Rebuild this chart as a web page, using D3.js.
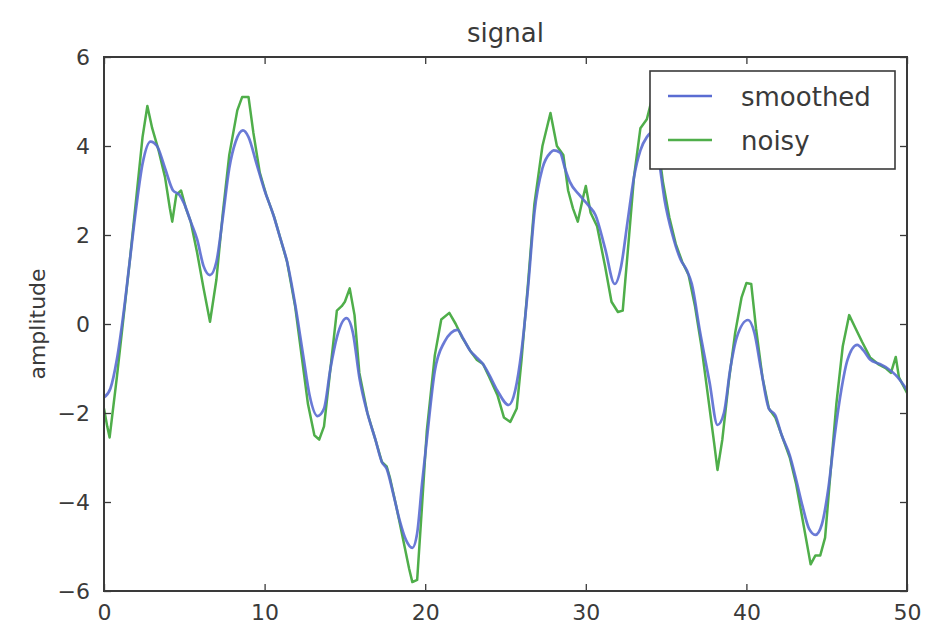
<!DOCTYPE html>
<html>
<head>
<meta charset="utf-8">
<script src="https://cdn.jsdelivr.net/npm/d3@7"></script>
<style>
  html, body { margin: 0; padding: 0; background: #ffffff; }
  svg { display: block; font-family: "DejaVu Sans", Verdana, sans-serif; }
</style>
</head>
<body>
<svg id="chart" width="933" height="627"></svg>
<script>
// ---- data ----
const smoothX = [0,0.4,0.8,1.2,1.6,2.0,2.4,2.9,3.3,3.8,4.3,4.7,5.0,5.4,5.8,6.2,6.6,7.0,7.4,7.8,8.2,8.65,9.0,9.5,10.0,10.5,11.0,11.4,11.9,12.4,12.8,13.3,13.7,14.1,14.5,15.1,15.5,15.9,16.4,16.9,17.3,17.6,18.0,18.4,18.8,19.2,19.5,19.8,20.1,20.6,21.2,21.6,22.0,22.4,22.8,23.2,23.6,24.0,24.5,25.2,25.6,26.0,26.4,26.8,27.3,27.8,28.0,28.4,28.7,29.0,29.6,30.2,30.6,31.2,31.8,32.2,32.6,33.0,33.4,33.8,34.1,34.5,34.9,35.4,35.9,36.3,36.6,37.1,37.7,38.2,38.6,39.0,39.4,40.1,40.5,40.9,41.4,41.8,42.2,42.7,43.1,43.5,43.9,44.3,44.7,45.1,45.5,45.9,46.3,46.9,47.3,47.7,48.3,48.8,49.3,50];
const smoothY = [-1.65,-1.45,-0.8,0.2,1.4,2.6,3.6,4.1,4.0,3.5,3.0,2.9,2.7,2.3,1.9,1.3,1.1,1.4,2.4,3.5,4.1,4.35,4.2,3.6,3.0,2.5,1.9,1.4,0.45,-0.7,-1.6,-2.07,-1.9,-1.0,-0.3,0.13,-0.2,-1.2,-2.0,-2.6,-3.1,-3.25,-3.8,-4.4,-4.85,-5.03,-4.7,-3.6,-2.6,-1.05,-0.4,-0.2,-0.13,-0.35,-0.6,-0.75,-0.9,-1.15,-1.5,-1.82,-1.5,-0.6,0.8,2.5,3.5,3.85,3.9,3.85,3.5,3.2,2.9,2.65,2.45,1.7,0.9,1.3,2.3,3.3,3.9,4.2,4.3,3.8,2.8,2.0,1.45,1.2,0.9,-0.15,-1.3,-2.27,-2.0,-1.0,-0.3,0.09,-0.2,-1.0,-1.9,-2.05,-2.5,-2.95,-3.5,-4.1,-4.6,-4.74,-4.5,-3.7,-2.5,-1.5,-0.8,-0.47,-0.6,-0.8,-0.9,-1.0,-1.15,-1.48];

const noisyX = [0,0.2,0.35,0.5,0.8,1.2,1.6,2.0,2.4,2.7,3.0,3.4,3.8,4.1,4.25,4.5,4.8,5.1,5.4,5.8,6.2,6.6,7.0,7.4,7.8,8.3,8.6,9.0,9.3,9.7,10.1,10.6,11.0,11.4,11.9,12.3,12.7,13.1,13.4,13.7,14.1,14.5,14.8,15.0,15.3,15.6,15.9,16.4,16.9,17.3,17.6,17.8,18.2,18.6,19.0,19.2,19.5,19.8,20.1,20.6,21.0,21.5,21.9,22.3,22.8,23.2,23.6,24.0,24.5,24.9,25.3,25.7,26.0,26.4,26.8,27.3,27.8,28.2,28.6,28.9,29.2,29.5,29.8,30.0,30.3,30.7,31.2,31.6,32.0,32.3,32.7,33.0,33.4,33.8,34.1,34.4,34.8,35.2,35.6,36.0,36.4,36.8,37.2,37.6,38.0,38.2,38.5,38.9,39.3,39.7,40.0,40.3,40.6,41.0,41.4,41.8,42.2,42.7,43.1,43.5,43.9,44.0,44.3,44.6,44.9,45.2,45.6,46.0,46.4,46.8,47.2,47.7,48.2,48.7,49.0,49.3,49.5,50];
const noisyY = [-1.9,-2.3,-2.55,-2.1,-1.2,0.1,1.4,2.8,4.2,4.9,4.4,3.9,3.3,2.6,2.3,2.9,3.0,2.6,2.3,1.6,0.8,0.05,1.0,2.5,3.8,4.8,5.1,5.1,4.3,3.4,2.9,2.4,1.9,1.4,0.4,-0.7,-1.8,-2.5,-2.6,-2.3,-1.0,0.3,0.4,0.5,0.8,0.2,-1.1,-2.0,-2.6,-3.1,-3.2,-3.45,-4.1,-4.8,-5.5,-5.8,-5.75,-4.1,-2.4,-0.7,0.1,0.25,0.0,-0.3,-0.6,-0.8,-0.9,-1.2,-1.6,-2.1,-2.2,-1.9,-0.8,0.9,2.7,4.0,4.74,4.0,3.8,3.0,2.6,2.3,2.8,3.1,2.5,2.2,1.3,0.5,0.27,0.3,2.0,3.3,4.4,4.6,5.03,4.3,3.2,2.4,1.8,1.4,1.1,0.4,-0.5,-1.6,-2.7,-3.28,-2.6,-1.3,-0.2,0.6,0.92,0.9,-0.1,-1.2,-1.9,-2.1,-2.5,-3.0,-3.6,-4.4,-5.2,-5.4,-5.2,-5.2,-4.8,-3.5,-1.8,-0.5,0.2,-0.1,-0.4,-0.75,-0.9,-1.0,-1.1,-0.74,-1.2,-1.55];

const seriesNames = ["smoothed", "noisy"];
const xTicks = [0, 10, 20, 30, 40, 50];
const yTicks = [-6, -4, -2, 0, 2, 4, 6];
const titleText = "signal";
const yLabelText = "amplitude";

(function () {
  const svg = d3.select("#chart");
  const pL = 104, pR = 907, pT = 57, pB = 591;
  const colors = { smoothed: "#5a6cd2", noisy: "#4fae4a" };

  const x = d3.scaleLinear().domain([0, 50]).range([pL, pR]);
  const y = d3.scaleLinear().domain([-6, 6]).range([pB, pT]);

  const fmt = d => (d < 0 ? "\u2212" + Math.abs(d) : String(d));

  const lineNoisy = d3.line()
    .defined(d => d[1] != null && !isNaN(d[1]))
    .x(d => x(d[0])).y(d => y(d[1]));
  const lineSmooth = d3.line()
    .defined(d => d[1] != null && !isNaN(d[1]))
    .curve(d3.curveMonotoneX)
    .x(d => x(d[0])).y(d => y(d[1]));
  const noisyPts = noisyX.map((v, i) => [v, noisyY[i]]);
  const smoothPts = smoothX.map((v, i) => [v, smoothY[i]]);

  svg.append("clipPath").attr("id", "clip")
    .append("rect").attr("x", pL).attr("y", pT).attr("width", pR - pL).attr("height", pB - pT);

  const plot = svg.append("g").attr("clip-path", "url(#clip)");
  plot.append("path").datum(noisyPts).attr("d", lineNoisy)
    .attr("fill", "none").attr("stroke", colors.noisy).attr("stroke-width", 2.5)
    .attr("stroke-linejoin", "round");
  plot.append("path").datum(smoothPts).attr("d", lineSmooth)
    .attr("fill", "none").attr("stroke", colors.smoothed).attr("stroke-width", 2.7)
    .attr("stroke-opacity", 0.9).attr("stroke-linejoin", "round");

  const tickLen = 7;
  const axisColor = "#3a3a3a";
  const textColor = "#3a3a3a";

  const gB = svg.append("g").attr("transform", `translate(0,${pB})`)
    .call(d3.axisBottom(x).tickValues(xTicks).tickSizeInner(-tickLen).tickSizeOuter(0).tickPadding(13).tickFormat(fmt));
  const gT = svg.append("g").attr("transform", `translate(0,${pT})`)
    .call(d3.axisTop(x).tickValues(xTicks).tickSizeInner(-tickLen).tickSizeOuter(0).tickFormat(""));
  const gLft = svg.append("g").attr("transform", `translate(${pL},0)`)
    .call(d3.axisLeft(y).tickValues(yTicks).tickSizeInner(-tickLen).tickSizeOuter(0).tickPadding(14).tickFormat(fmt));
  const gRt = svg.append("g").attr("transform", `translate(${pR},0)`)
    .call(d3.axisRight(y).tickValues(yTicks).tickSizeInner(-tickLen).tickSizeOuter(0).tickFormat(""));

  [gB, gT, gLft, gRt].forEach(g => {
    g.select(".domain").remove();
    g.selectAll(".tick line").attr("stroke", axisColor).attr("stroke-width", 1.3);
    g.selectAll(".tick text").attr("fill", textColor).attr("font-size", 22)
      .attr("font-family", "DejaVu Sans, sans-serif");
  });

  svg.append("rect").attr("x", pL).attr("y", pT)
    .attr("width", pR - pL).attr("height", pB - pT)
    .attr("fill", "none").attr("stroke", axisColor).attr("stroke-width", 2);

  svg.append("text").attr("x", (pL + pR) / 2).attr("y", 42)
    .attr("text-anchor", "middle").attr("font-size", 26).attr("fill", textColor)
    .text(titleText);

  svg.append("text")
    .attr("transform", `translate(45,${(pT + pB) / 2}) rotate(-90)`)
    .attr("text-anchor", "middle").attr("font-size", 22).attr("fill", textColor)
    .text(yLabelText);

  const lg = svg.append("g");
  lg.append("rect").attr("x", 650).attr("y", 71).attr("width", 245).attr("height", 98)
    .attr("fill", "#ffffff").attr("stroke", axisColor).attr("stroke-width", 1.6);
  seriesNames.forEach((name, i) => {
    const ly = 96 + i * 44;
    lg.append("line").attr("x1", 668).attr("x2", 712).attr("y1", ly).attr("y2", ly)
      .attr("stroke", colors[name]).attr("stroke-width", 2.6);
    lg.append("text").attr("x", 741).attr("y", ly + 9.5)
      .attr("font-size", 26).attr("fill", textColor).text(name);
  });
})();
</script>
</body>
</html>
